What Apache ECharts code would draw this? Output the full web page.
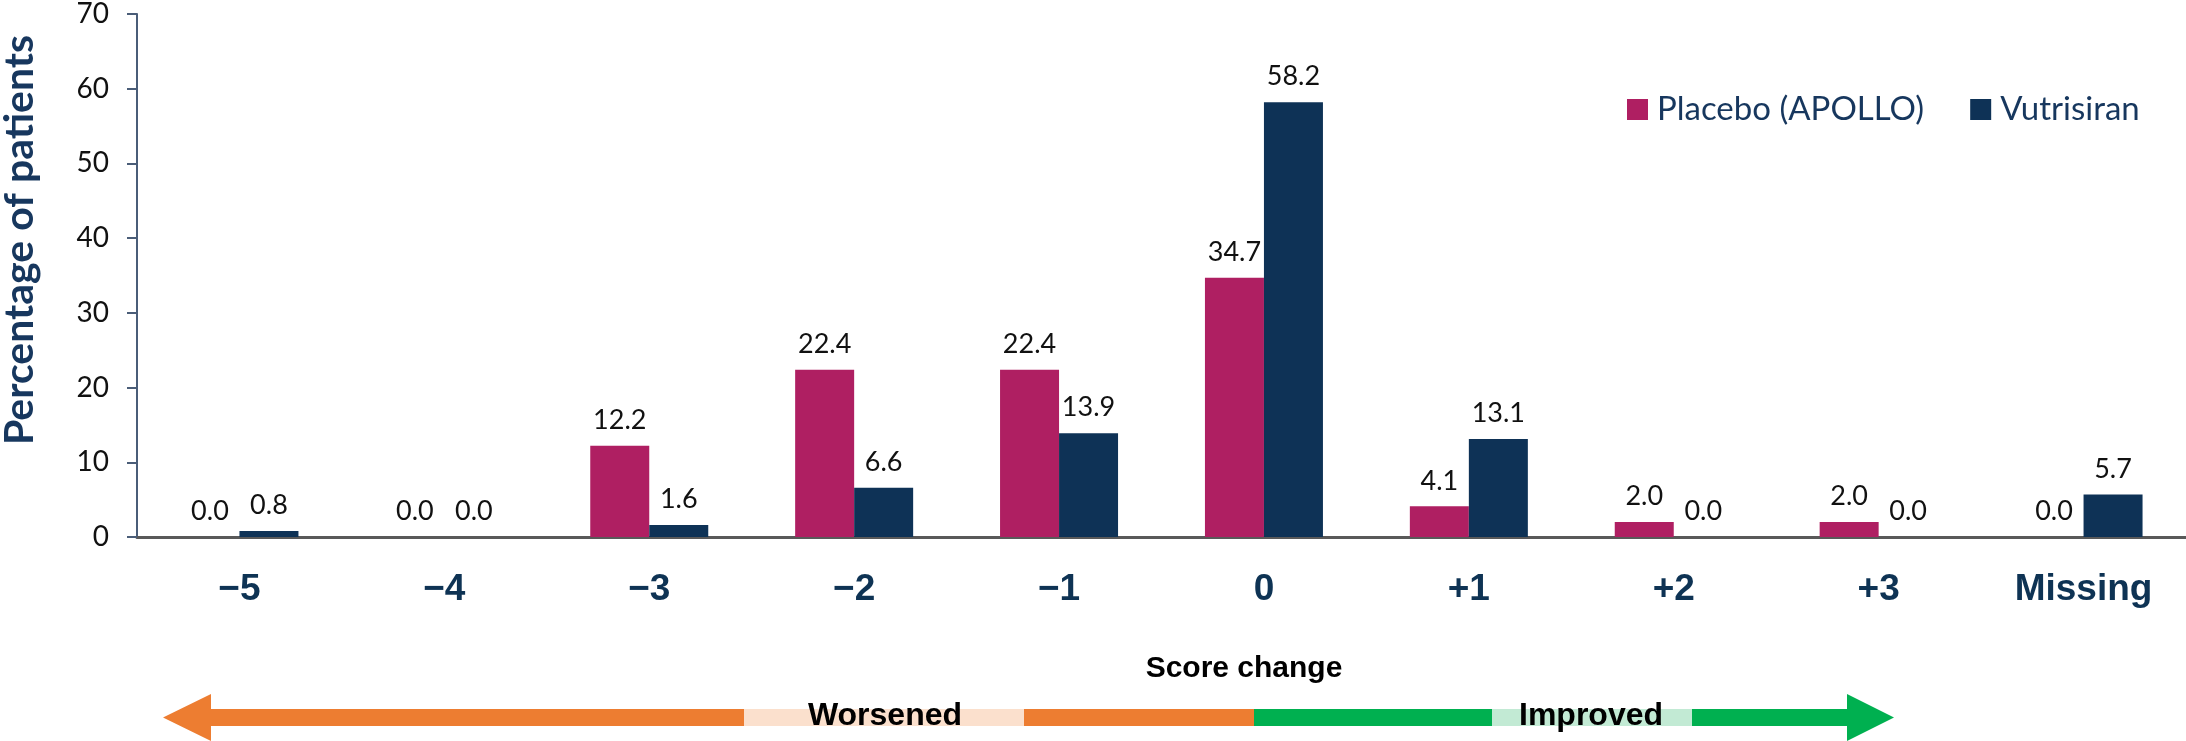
<!DOCTYPE html>
<html>
<head>
<meta charset="utf-8">
<script src="https://cdn.jsdelivr.net/npm/echarts@6/dist/echarts.min.js"></script>
<style>
  html, body { margin: 0; padding: 0; background: #ffffff; }
  #chart { width: 2186px; height: 741px; }
</style>
</head>
<body>
<div id="chart"></div>
<script>
// Score-change categories and percentage of patients per arm
const categories = ['−5', '−4', '−3', '−2', '−1', '0', '+1', '+2', '+3', 'Missing'];
const placebo = [0.0, 0.0, 12.2, 22.4, 22.4, 34.7, 4.1, 2.0, 2.0, 0.0];
const vutrisiran = [0.8, 0.0, 1.6, 6.6, 13.9, 58.2, 13.1, 0.0, 0.0, 5.7];
const seriesNames = ['Placebo (APOLLO)', 'Vutrisiran'];
const yMin = 0, yMax = 70, yStep = 10;

const COLORS = { placebo: '#AF1F62', vutrisiran: '#0E3256', navy: '#17375E' };
const ORANGE = '#ED7D31', ORANGE_LIGHT = '#FBE0CD';
const GREEN = '#00B050', GREEN_LIGHT = '#C2EAD4';

const chart = echarts.init(document.getElementById('chart'), null, { renderer: 'canvas' });

const valueLabel = {
  show: true,
  position: 'top',
  distance: 12,
  fontFamily: 'Lato',
  fontSize: 27,
  color: '#111111',
  formatter: p => Number(p.value).toFixed(1)
};

// Direction arrow under the axis: orange = worsened, green = improved
const shaftTop = 709, shaftH = 17, headTop = 694, headBot = 741, mid = 717.5;
const arrow = [
  { type: 'polygon', silent: true,
    shape: { points: [[163, mid], [211, headTop], [211, shaftTop], [1254, shaftTop], [1254, shaftTop + shaftH], [211, shaftTop + shaftH], [211, headBot]] },
    style: { fill: ORANGE } },
  { type: 'rect', silent: true, shape: { x: 744, y: shaftTop, width: 280, height: shaftH }, style: { fill: ORANGE_LIGHT } },
  { type: 'polygon', silent: true,
    shape: { points: [[1254, shaftTop], [1847, shaftTop], [1847, headTop], [1894, mid], [1847, headBot], [1847, shaftTop + shaftH], [1254, shaftTop + shaftH]] },
    style: { fill: GREEN } },
  { type: 'rect', silent: true, shape: { x: 1492, y: shaftTop, width: 200, height: shaftH }, style: { fill: GREEN_LIGHT } },
  { type: 'text', silent: true, x: 885, y: 716,
    style: { text: 'Worsened', fill: '#000', font: 'bold 32px "Liberation Sans", Arial, sans-serif', textAlign: 'center', textVerticalAlign: 'middle' } },
  { type: 'text', silent: true, x: 1591, y: 716,
    style: { text: 'Improved', fill: '#000', font: 'bold 32px "Liberation Sans", Arial, sans-serif', textAlign: 'center', textVerticalAlign: 'middle' } },
  { type: 'text', silent: true, x: 1244, y: 669,
    style: { text: 'Score change', fill: '#000', font: 'bold 30px "Liberation Sans", Arial, sans-serif', textAlign: 'center', textVerticalAlign: 'middle' } },
  { type: 'text', silent: true, x: 20, y: 240, rotation: Math.PI / 2,
    style: { text: 'Percentage of patients', fill: COLORS.navy, font: 'bold 41px Lato, sans-serif', textAlign: 'center', textVerticalAlign: 'middle' } }
];

chart.setOption({
  animation: false,
  backgroundColor: '#ffffff',
  grid: { left: 137, right: 0, top: 14, bottom: 204, containLabel: false },
  legend: {
    data: seriesNames,
    left: 1622,
    top: 88,
    itemWidth: 21,
    itemHeight: 21,
    itemGap: 46,
    icon: 'rect',
    textStyle: { fontFamily: 'Lato', fontSize: 33, color: COLORS.navy, padding: [0, 0, 0, 4] }
  },
  xAxis: {
    type: 'category',
    data: categories,
    axisLine: { show: true, lineStyle: { color: '#595959', width: 3 } },
    axisTick: { show: false },
    axisLabel: {
      margin: 34,
      fontFamily: '"Liberation Sans", Arial, sans-serif',
      fontWeight: 'bold',
      fontSize: 37,
      color: '#0E3354'
    },
    splitLine: { show: false }
  },
  yAxis: {
    type: 'value',
    min: yMin,
    max: yMax,
    interval: yStep,
    axisLine: { show: true, lineStyle: { color: '#4A5D78', width: 2 } },
    axisTick: { show: true, inside: false, length: 10, lineStyle: { color: '#4A5D78', width: 2 } },
    axisLabel: { margin: 28, fontFamily: 'Lato', fontSize: 28, color: '#111111' },
    splitLine: { show: false }
  },
  series: [
    {
      name: seriesNames[0],
      type: 'bar',
      data: placebo,
      barWidth: 59,
      barGap: '0%',
      itemStyle: { color: COLORS.placebo },
      label: valueLabel
    },
    {
      name: seriesNames[1],
      type: 'bar',
      data: vutrisiran,
      barWidth: 59,
      barGap: '0%',
      itemStyle: { color: COLORS.vutrisiran },
      label: valueLabel
    }
  ],
  graphic: arrow
});
</script>
</body>
</html>
